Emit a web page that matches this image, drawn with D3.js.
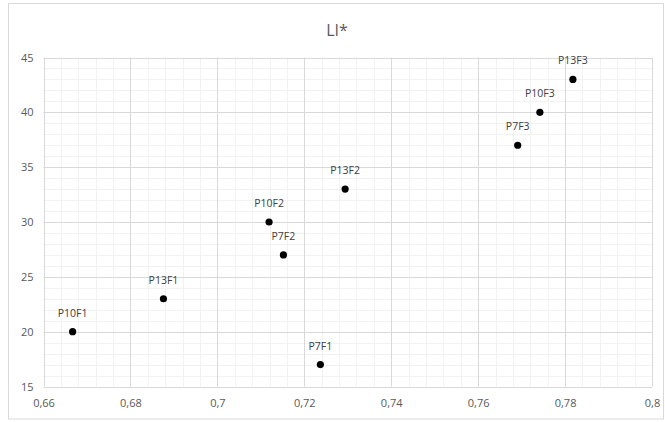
<!DOCTYPE html>
<html>
<head>
<meta charset="utf-8">
<script src="https://cdn.jsdelivr.net/npm/d3@7"></script>
<style>
  html, body { margin: 0; padding: 0; background: #fff; }
  svg { display: block; }
</style>
</head>
<body>
<svg id="chart" width="665" height="422"></svg>
<script>
const labels = ["P10F1", "P13F1", "P10F2", "P7F2", "P13F2", "P7F1", "P7F3", "P10F3", "P13F3"];
const xValues = [0.6667, 0.6876, 0.7119, 0.7152, 0.7294, 0.7237, 0.7691, 0.7742, 0.7818];
const yValues = [20, 23, 30, 27, 33, 17, 37, 40, 43];
const xTicks = [0.66, 0.68, 0.70, 0.72, 0.74, 0.76, 0.78, 0.80];
const yTicks = [15, 20, 25, 30, 35, 40, 45];
const title = "LI*";

const svg = d3.select("#chart");
const W = 665, H = 422;
const m = { left: 43.5, right: 665 - 652, top: 57.5, bottom: 422 - 386.5 };

// outer chart border
svg.append("rect").attr("x", 8.5).attr("y", 3.5).attr("width", 655).attr("height", 415.5)
  .attr("fill", "#fff").attr("stroke", "#d9d9d9").attr("stroke-width", 1);

const x = d3.scaleLinear().domain([0.66, 0.80]).range([m.left, W - m.right]);
const y = d3.scaleLinear().domain([15, 45]).range([H - m.bottom, m.top]);

const font = "'Open Sans', 'Liberation Sans', sans-serif";

// minor gridlines
const xMinor = d3.range(0, 36).map(i => 0.66 + i * 0.004);
const yMinor = d3.range(15, 46, 1);
const g = svg.append("g");
g.selectAll("line.xm").data(xMinor).join("line")
  .attr("x1", d => Math.round(x(d)) + 0.5).attr("x2", d => Math.round(x(d)) + 0.5)
  .attr("y1", y(15)).attr("y2", y(45)).attr("stroke", "#f2f2f2");
g.selectAll("line.ym").data(yMinor).join("line")
  .attr("y1", d => Math.round(y(d)) + 0.5).attr("y2", d => Math.round(y(d)) + 0.5)
  .attr("x1", x(0.66)).attr("x2", x(0.80)).attr("stroke", "#f2f2f2");
// major gridlines
g.selectAll("line.xM").data(xTicks).join("line")
  .attr("x1", d => Math.round(x(d)) + 0.5).attr("x2", d => Math.round(x(d)) + 0.5)
  .attr("y1", y(15)).attr("y2", y(45)).attr("stroke", "#d9d9d9");
g.selectAll("line.yM").data(yTicks).join("line")
  .attr("y1", d => Math.round(y(d)) + 0.5).attr("y2", d => Math.round(y(d)) + 0.5)
  .attr("x1", x(0.66)).attr("x2", x(0.80)).attr("stroke", "#d9d9d9");

// axes (labels only)
const fmt = d => d3.format(".2~f")(d).replace(".", ",");
const xAxis = svg.append("g").attr("transform", `translate(0,${y(15)})`)
  .call(d3.axisBottom(x).tickValues(xTicks).tickFormat(fmt).tickSize(0).tickPadding(13));
const yAxis = svg.append("g").attr("transform", `translate(${x(0.66)},0)`)
  .call(d3.axisLeft(y).tickValues(yTicks).tickSize(0).tickPadding(10));
[xAxis, yAxis].forEach(a => {
  a.select(".domain").remove();
  a.selectAll("text").attr("fill", "#595959").style("font-family", font).style("font-size", "11px");
});

// title
svg.append("text").attr("x", 337).attr("y", 36).attr("text-anchor", "middle")
  .attr("fill", "#595959").style("font-family", font).style("font-size", "16px").text(title);

// points
const data = labels.map((l, i) => ({ l, x: xValues[i], y: yValues[i] }));
svg.selectAll("circle.pt").data(data).join("circle")
  .attr("cx", d => x(d.x)).attr("cy", d => y(d.y)).attr("r", 3.6).attr("fill", "#000");
svg.selectAll("text.lbl").data(data).join("text")
  .attr("x", d => x(d.x)).attr("y", d => y(d.y) - 15).attr("text-anchor", "middle")
  .attr("fill", "#404040").style("font-family", font).style("font-size", "10.5px").text(d => d.l);
</script>
</body>
</html>
